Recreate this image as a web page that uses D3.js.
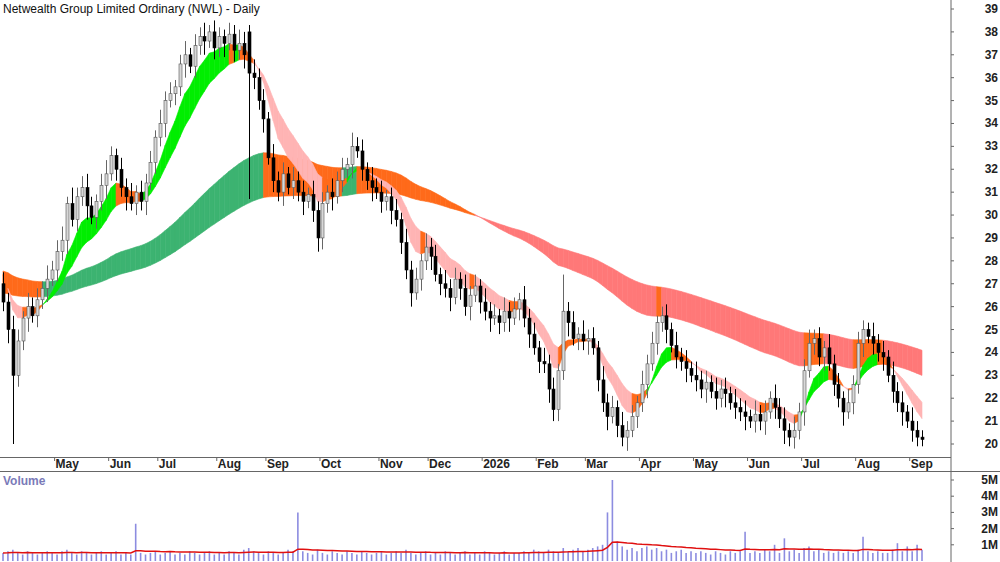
<!DOCTYPE html>
<html><head><meta charset="utf-8">
<script src="https://cdn.jsdelivr.net/npm/d3@7"></script>
<style>body{margin:0;background:#fff}svg{font-family:"Liberation Sans",Arial,sans-serif}</style>
</head><body><svg id="c" width="1000" height="562"></svg>
<script>
// closes, one candle per two sessions
const closes = [26.2,25.0,23.0,24.5,25.5,26.0,25.6,26.3,26.8,27.2,
27.6,28.4,28.9,30.5,29.8,30.8,31.2,30.4,29.9,30.6,
31.3,31.8,32.6,32.0,31.2,30.8,30.5,31.0,30.6,31.4,
32.3,33.4,34.0,35.0,35.3,35.6,36.6,37.0,36.5,37.4,
37.8,37.6,38.0,37.3,37.8,37.5,37.9,37.2,37.5,37.0,
36.2,36.0,35.0,34.2,32.5,31.5,31.0,31.8,31.2,31.5,
31.0,30.6,30.9,30.2,29.0,30.5,31.0,30.8,31.5,32.0,
32.2,33.0,32.8,32.0,31.5,31.2,31.0,30.6,30.8,30.2,
29.8,28.8,27.6,26.6,27.2,28.0,28.6,28.2,27.4,27.0,
26.8,26.4,27.2,26.8,26.0,26.5,26.9,26.2,25.8,25.5,
25.6,25.3,25.8,25.5,25.9,26.3,25.5,24.8,24.2,23.6,
23.5,22.4,21.5,23.2,25.8,25.3,24.6,24.8,24.5,24.6,
24.2,22.8,21.8,21.2,21.6,20.8,20.3,20.6,21.2,21.8,
22.6,23.5,24.4,25.3,25.6,25.0,24.3,23.8,23.6,23.3,
23.0,22.8,22.4,22.7,22.3,22.0,22.4,22.2,21.8,21.6,
21.4,21.2,21.0,21.3,21.0,21.4,22.0,21.6,21.1,20.6,
20.3,20.6,21.4,23.2,24.4,24.6,23.8,24.2,23.5,22.6,
22.0,21.4,21.8,22.6,24.4,25.0,24.7,24.4,24.0,23.8,
23.0,22.3,21.8,21.4,21.0,20.6,20.3,20.2];
const opens = [27.0,26.2,25.0,23.0,24.5,25.5,26.0,25.6,26.3,26.8,
27.2,27.6,28.4,28.9,30.5,29.8,30.8,31.2,30.4,29.9,
30.6,31.3,31.8,32.6,32.0,31.2,30.8,30.5,31.0,30.6,
31.4,32.3,33.4,34.0,35.0,35.3,35.6,36.6,37.0,36.5,
37.4,37.8,37.6,38.0,37.3,37.8,37.5,37.9,37.2,37.5,
38.0,36.2,36.0,35.0,34.2,32.5,31.5,31.0,31.8,31.2,
31.5,31.0,30.6,30.9,30.2,29.0,30.5,31.0,30.8,31.5,
32.0,32.2,33.0,32.8,32.0,31.5,31.2,31.0,30.6,30.8,
30.2,29.8,28.8,27.6,26.6,27.2,28.0,28.6,28.2,27.4,
27.0,26.8,26.4,27.2,26.8,26.0,26.5,26.9,26.2,25.8,
25.5,25.6,25.3,25.8,25.5,25.9,26.3,25.5,24.8,24.2,
23.6,23.5,22.4,21.5,23.2,25.8,25.3,24.6,24.8,24.5,
24.6,24.2,22.8,21.8,21.2,21.6,20.8,20.3,20.6,21.2,
21.8,22.6,23.5,24.4,25.3,25.6,25.0,24.3,23.8,23.6,
23.3,23.0,22.8,22.4,22.7,22.3,22.0,22.4,22.2,21.8,
21.6,21.4,21.2,21.0,21.3,21.0,21.4,22.0,21.6,21.1,
20.6,20.3,20.6,21.4,23.2,24.4,24.6,23.8,24.2,23.5,
22.6,22.0,21.4,21.8,22.6,24.4,25.0,24.7,24.4,24.0,
23.8,23.0,22.3,21.8,21.4,21.0,20.6,20.3];
// wick lengths above / below the body
const wickUp = [0.5,0.4,0.6,0.5,0.3,0.6,0.4,0.5,0.3,0.6, 0.4,0.5,0.6,0.3,0.7,0.4,0.5,0.6,0.4,0.3,
0.5,0.6,0.4,0.3,0.5,0.4,0.6,0.3,0.5,0.4, 0.5,0.3,0.6,0.4,0.5,0.3,0.4,0.6,0.3,0.5,
0.4,0.6,0.3,0.5,0.4,0.3,0.5,0.4,0.6,0.5, 0.3,0.6,0.4,0.5,0.3,0.6,0.4,0.5,0.3,0.6,
0.4,0.5,0.3,0.6,0.4,0.5,0.3,0.6,0.4,0.5, 0.3,0.6,0.4,0.5,0.3,0.6,0.4,0.5,0.3,0.4,
0.5,0.3,0.6,0.4,0.5,0.3,0.6,0.4,0.5,0.3, 0.6,0.4,0.5,0.3,0.6,0.4,0.5,0.3,0.6,0.4,
0.5,0.3,0.6,0.4,0.5,0.3,0.6,0.4,0.5,0.3, 0.6,0.4,0.5,0.3,1.6,0.4,0.5,0.3,0.6,0.4,
0.5,0.3,0.6,0.4,0.5,0.3,0.6,0.4,0.5,0.3, 0.6,0.4,0.5,0.3,0.4,0.5,0.3,0.6,0.4,0.5,
0.3,0.6,0.4,0.5,0.3,0.6,0.4,0.5,0.3,0.6, 0.4,0.5,0.3,0.6,0.4,0.5,0.3,0.6,0.4,0.5,
0.3,0.6,0.4,0.5,0.6,0.4,0.5,0.3,0.6,0.4, 0.5,0.3,0.6,0.4,0.5,0.4,0.3,0.6,0.4,0.5,
0.3,0.6,0.4,0.5,0.3,0.6,0.4,0.3];
const wickDn = [0.4,0.6,3.0,0.5,0.4,0.6,0.3,0.5,0.4,0.6, 0.3,0.5,0.4,0.6,0.3,0.5,0.4,0.6,0.3,0.5,
0.4,0.6,0.3,0.5,0.4,0.6,0.3,0.5,0.4,0.6, 0.3,0.5,0.4,0.6,0.3,0.5,0.4,0.6,0.3,0.5,
0.4,0.6,0.3,0.5,0.4,0.6,0.3,0.5,0.4,0.6, 5.5,0.5,0.4,0.6,0.3,0.5,0.4,0.6,0.3,0.5,
0.4,0.6,0.3,0.5,0.6,0.5,0.4,0.6,0.3,0.5, 0.4,0.6,0.3,0.5,0.4,0.6,0.3,0.5,0.4,0.6,
0.3,0.5,0.4,0.6,0.3,0.5,0.4,0.6,0.3,0.5, 0.4,0.6,0.3,0.5,0.4,0.6,0.3,0.5,0.4,0.6,
0.3,0.5,0.4,0.6,0.3,0.5,0.4,0.6,0.3,0.5, 0.4,0.6,0.5,0.5,0.4,0.6,0.3,0.5,0.4,0.6,
0.3,0.5,0.4,0.6,0.3,0.5,0.4,0.6,0.3,0.5, 0.4,0.6,0.3,0.5,0.4,0.6,0.3,0.5,0.4,0.6,
0.3,0.5,0.4,0.6,0.3,0.5,0.4,0.6,0.3,0.5, 0.4,0.6,0.3,0.5,0.4,0.6,0.3,0.5,0.4,0.6,
0.4,0.5,0.4,0.6,0.3,0.5,0.4,0.6,0.3,0.5, 0.4,0.6,0.3,0.5,0.4,0.6,0.3,0.5,0.4,0.6,
0.3,0.5,0.4,0.6,0.3,0.5,0.4,0.3];
// volume in millions
const volumes = [0.5,0.6,0.7,0.5,0.4,0.6,0.5,0.4,0.5,0.6, 0.5,0.4,0.6,0.7,0.5,0.4,0.6,0.5,0.4,0.5,
0.6,0.4,0.5,0.6,0.4,0.5,0.4,2.3,0.5,0.4, 0.5,0.6,0.4,0.5,0.6,0.4,0.5,0.4,0.6,0.5,
0.4,0.5,0.6,0.4,0.5,0.4,0.6,0.5,0.4,0.7, 0.8,0.6,0.5,0.4,0.6,0.5,0.4,0.5,0.7,0.6,
3.0,0.6,0.5,0.4,0.7,0.5,0.4,0.6,0.5,0.4, 0.6,0.5,0.4,0.6,0.5,0.4,0.5,0.6,0.4,0.5,
0.6,0.5,0.7,0.5,0.4,0.5,0.6,0.4,0.5,0.4, 0.6,0.5,0.4,0.5,0.6,0.4,0.5,0.4,0.6,0.5,
0.4,0.5,0.6,0.4,0.5,0.5,0.6,0.5,0.7,0.6, 0.5,0.7,0.6,0.5,0.8,0.6,0.7,0.8,0.6,0.7,
0.8,0.9,1.0,3.0,5.0,1.2,0.9,0.7,0.8,0.6, 0.8,0.9,0.7,0.8,0.6,0.7,0.5,0.6,0.7,0.5,
0.6,0.5,0.6,0.5,0.4,0.6,0.5,0.4,0.6,0.5, 0.6,1.8,0.5,0.6,0.5,0.7,0.6,1.0,0.5,1.4,
0.6,0.7,0.5,0.8,0.9,0.6,0.7,0.5,0.6,0.5, 0.6,0.5,0.6,0.5,0.7,1.5,0.6,0.5,0.6,0.5,
0.5,0.7,1.1,0.6,0.9,0.6,1.0,0.7];
// earlier-history levels the averages start from
const shortSeed = [27.8, 27.2];
const longSeed = [27.6, 26.6];
const priceTicks = d3.range(20, 40);
const volTicks = [1, 2, 3, 4, 5];
const monthNames = ["2026","Feb","Mar","Apr","May","Jun","Jul","Aug","Sep","Oct","Nov","Dec"];

// trading dates: every second weekday from 2 Apr 2025
const dates = [];
{ let d = new Date(2025, 3, 2), k = 0;
  while (dates.length < closes.length) {
    if (d.getDay() % 6 !== 0) { if (k % 2 === 0) dates.push(new Date(d)); k++; }
    d = d3.timeDay.offset(d, 1);
  } }

const svg = d3.select("#c");
const AX = 951;
const x = d3.scaleLinear().domain([0, closes.length - 1]).range([3, 922]);
const y = d3.scaleLinear().domain([20, 39]).range([444, 9]);
const yv = d3.scaleLinear().domain([0, 5]).range([561, 480]);

function ema(arr, n, seed) {
  const k = 2 / (n + 1); let e = seed ?? arr[0];
  return arr.map(v => (e = v * k + e * (1 - k)));
}
// rising & fast above slow: up colour; fast below slow & falling: down colour; else mixed
function drawBand(fast, slow, up, flat, down) {
  for (let i = 1; i < closes.length; i++) {
    const rising = fast[i] > fast[i - 1], above = fast[i] > slow[i];
    const c = rising && above ? up : !rising && !above ? down : flat;
    const pts = [[x(i-1), y(fast[i-1])], [x(i), y(fast[i])], [x(i), y(slow[i])], [x(i-1), y(slow[i-1])]];
    svg.append("path").attr("d", d3.line()(pts) + "Z").attr("fill", c).attr("stroke", c).attr("stroke-width", 0.6);
  }
}
drawBand(ema(closes, 65, longSeed[0]), ema(closes, 110, longSeed[1]), "#3cb371", "#ff6a1a", "#ff7878");
drawBand(ema(closes, 7, shortSeed[0]), ema(closes, 14, shortSeed[1]), "#00ee00", "#ff6a1a", "#ffb4b4");

// candles
const cw = 3;
closes.forEach((c, i) => {
  const o = opens[i], hi = Math.max(o, c) + wickUp[i], lo = Math.min(o, c) - wickDn[i];
  const up = c >= o, cx = Math.round(x(i)) + 0.5;
  svg.append("line").attr("x1", cx).attr("x2", cx).attr("y1", y(hi)).attr("y2", y(lo))
    .attr("stroke", up ? "#666" : "#000");
  svg.append("rect").attr("x", cx - cw / 2).attr("width", cw)
    .attr("y", y(Math.max(o, c))).attr("height", Math.max(1, Math.abs(y(o) - y(c))))
    .attr("fill", up ? "#d8d8d8" : "#000").attr("stroke", up ? "#555" : "#000").attr("stroke-width", 0.6);
});

// volume bars and moving average
volumes.forEach((v, i) => {
  svg.append("line").attr("x1", x(i)).attr("x2", x(i)).attr("y1", yv(0)).attr("y2", yv(v))
    .attr("stroke", "#8c8ce0").attr("stroke-width", 1.6);
});
const vma = ema(volumes, 25);
svg.append("path").datum(vma).attr("fill", "none").attr("stroke", "#e01010").attr("stroke-width", 1.5)
  .attr("d", d3.line().x((d, i) => x(i)).y(d => yv(d)));

// frame
svg.append("line").attr("x1", AX).attr("x2", AX).attr("y1", 0).attr("y2", 562).attr("stroke", "#666");
svg.append("line").attr("x1", 0).attr("x2", AX).attr("y1", 457.5).attr("y2", 457.5).attr("stroke", "#666");
svg.append("line").attr("x1", 0).attr("x2", 1000).attr("y1", 471.5).attr("y2", 471.5).attr("stroke", "#666");

priceTicks.forEach(t => {
  svg.append("line").attr("x1", AX).attr("x2", AX + 3).attr("y1", y(t)).attr("y2", y(t)).attr("stroke", "#666");
  svg.append("text").attr("x", 998).attr("y", y(t) + 4).attr("text-anchor", "end")
    .attr("font-size", 12).attr("font-weight", "bold").attr("fill", "#222").text(t);
});
volTicks.forEach(t => {
  svg.append("line").attr("x1", AX).attr("x2", AX + 3).attr("y1", yv(t)).attr("y2", yv(t)).attr("stroke", "#666");
  svg.append("text").attr("x", 998).attr("y", yv(t) + 4).attr("text-anchor", "end")
    .attr("font-size", 12).attr("font-weight", "bold").attr("fill", "#222").text(t + "M");
});

// month ticks
dates.forEach((d, i) => {
  if (i === 0 || d.getMonth() === dates[i - 1].getMonth()) return;
  const xm = x(i - 0.5);
  svg.append("line").attr("x1", xm).attr("x2", xm).attr("y1", 457).attr("y2", 461).attr("stroke", "#666");
  svg.append("text").attr("x", xm + 1).attr("y", 468).attr("font-size", 12).attr("font-weight", "bold")
    .attr("fill", "#222").text(monthNames[d.getMonth()]);
});

svg.append("text").attr("x", 3).attr("y", 13).attr("font-size", 12).attr("fill", "#111")
  .text("Netwealth Group Limited Ordinary (NWL) - Daily");
svg.append("text").attr("x", 3).attr("y", 485).attr("font-size", 12).attr("font-weight", "bold")
  .attr("fill", "#7a7ab8").text("Volume");
</script></body></html>
